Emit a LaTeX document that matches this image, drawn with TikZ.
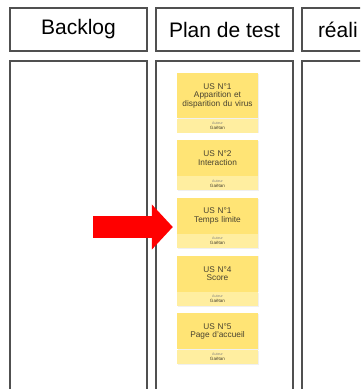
\documentclass[tikz,border=0pt]{standalone}
\usepackage{fontspec}
\setmainfont{Liberation Sans}
\usetikzlibrary{positioning,arrows.meta,shadows}
\definecolor{postit}{RGB}{255,228,117}
\definecolor{postitfoot}{RGB}{255,238,160}
\definecolor{postitink}{RGB}{72,66,48}
\definecolor{frame}{RGB}{80,80,80}

\begin{document}
\begin{tikzpicture}[x=1pt,y=-1pt,align=center,
    head/.style={draw=frame,line width=1.6pt,minimum width=137pt,minimum height=43pt,font=\fontsize{21}{24}\selectfont},
    lane/.style={draw=frame,line width=1.6pt,minimum width=137pt,minimum height=345pt},
    story/.style={fill=postit,text=postitink,minimum width=81pt,minimum height=36pt,text width=75pt,inner xsep=3pt,inner ysep=2pt,
      font=\fontsize{8.3}{8.6}\selectfont,drop shadow={opacity=0.12,shadow xshift=0.6pt,shadow yshift=-0.8pt}},
    owner/.style={fill=postitfoot,text=postitink,minimum width=81pt,minimum height=14pt,text width=75pt,inner xsep=3pt,inner ysep=1pt,
      font=\fontsize{4.6}{5}\selectfont,drop shadow={opacity=0.12,shadow xshift=0.6pt,shadow yshift=-0.8pt}}]
  \useasboundingbox (0,0) rectangle (360,389);
  \clip (0,0) rectangle (360,389);

  % column headers
  \node[head] (backlog) at (78.5,29.5) {Backlog};
  \node[head,right=7.4pt of backlog] (plan) {Plan de test};
  \node[head,right=7.4pt of plan,text width=105pt,align=left,inner xsep=16pt] (realise) {réali};

  % lanes
  \node[lane,below=8.4pt of backlog] (backloglane) {};
  \node[lane,below=8.4pt of plan] (planlane) {};
  \node[lane,below=8.4pt of realise] (realiselane) {};

  % user stories
  \node[story,minimum height=45pt,anchor=north] (virus) at (217.5,73) {US N°1\\Apparition et\\disparition du virus};
  \node[owner,below=0pt of virus] (virusby) {{\fontsize{3.6}{4}\selectfont\color{gray}Auteur}\\Gaëtan};
  \node[story,below=7pt of virusby] (interaction) {US N°2\\Interaction};
  \node[owner,below=0pt of interaction] (interactionby) {{\fontsize{3.6}{4}\selectfont\color{gray}Auteur}\\Gaëtan};
  \node[story,below=7pt of interactionby] (temps) {US N°1\\Temps limite};
  \node[owner,below=0pt of temps] (tempsby) {{\fontsize{3.6}{4}\selectfont\color{gray}Auteur}\\Gaëtan};
  \node[story,below=7pt of tempsby] (score) {US N°4\\Score};
  \node[owner,below=0pt of score] (scoreby) {{\fontsize{3.6}{4}\selectfont\color{gray}Auteur}\\Gaëtan};
  \node[story,below=7pt of scoreby] (accueil) {US N°5\\Page d'accueil};
  \node[owner,below=0pt of accueil] (accueilby) {{\fontsize{3.6}{4}\selectfont\color{gray}Auteur}\\Gaëtan};

  \coordinate (pointer) at (93,227);
  \draw[red,line width=22pt,-{Triangle[length=21pt,width=44pt]},shorten >=4pt] (pointer) -- (pointer -| temps.west);
  %\draw[red] (pointer) -- (temps);
\end{tikzpicture}
\end{document}
